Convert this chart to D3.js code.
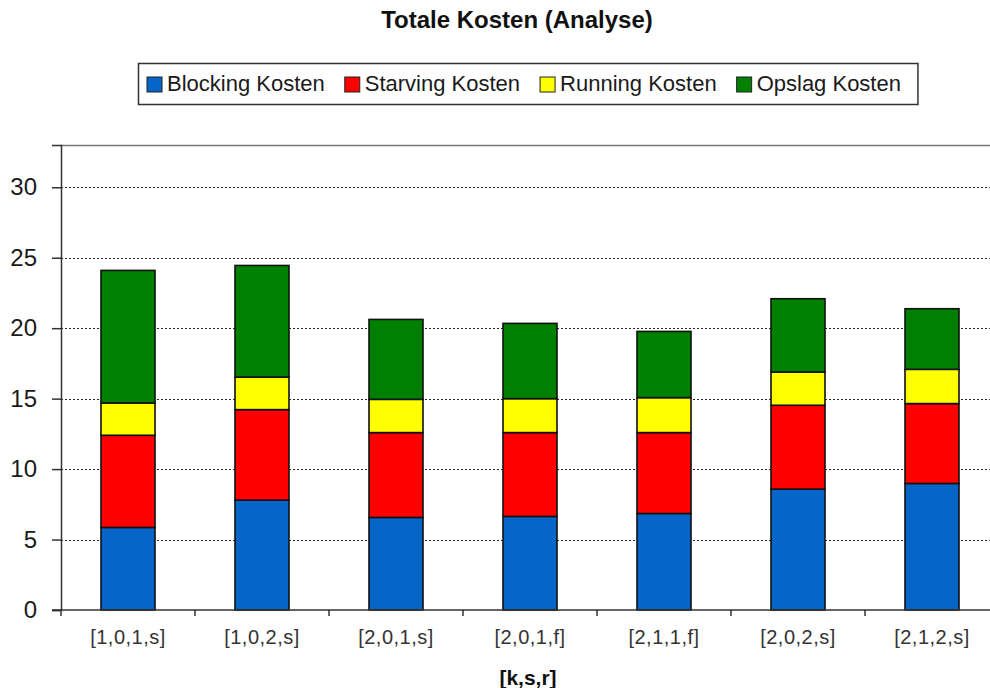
<!DOCTYPE html>
<html>
<head>
<meta charset="utf-8">
<script src="https://cdn.jsdelivr.net/npm/d3@7"></script>
<style>
  html, body { margin: 0; padding: 0; background: #fff; }
  svg { display: block; font-family: Arial, "Liberation Sans", sans-serif; }
</style>
</head>
<body>
<svg id="chart" width="990" height="688"></svg>
<script>
// Cost configurations [k,s,r]
const categories = ["[1,0,1,s]", "[1,0,2,s]", "[2,0,1,s]", "[2,0,1,f]", "[2,1,1,f]", "[2,0,2,s]", "[2,1,2,s]"];

// Cost components per configuration
const blocking = [5.86, 7.80, 6.57, 6.64, 6.85, 8.58, 8.98];
const starving = [6.54, 6.42, 6.02, 5.95, 5.74, 5.95, 5.67];
const running  = [2.29, 2.31, 2.36, 2.41, 2.48, 2.36, 2.43];
const opslag   = [9.41, 7.92, 5.67, 5.34, 4.70, 5.20, 4.30];

const seriesNames = ["Blocking Kosten", "Starving Kosten", "Running Kosten", "Opslag Kosten"];
const seriesColors = ["#0565c9", "#ff0000", "#ffff00", "#008000"];
const yTicks = [0, 5, 10, 15, 20, 25, 30];

const svg = d3.select("#chart");
const margin = { left: 61, right: 999, top: 145, bottom: 610 };

const rows = categories.map((c, i) => ({
  cat: c,
  "Blocking Kosten": blocking[i],
  "Starving Kosten": starving[i],
  "Running Kosten": running[i],
  "Opslag Kosten": opslag[i]
}));
const stacked = d3.stack().keys(seriesNames)(rows);

const x = d3.scaleBand()
  .domain(categories)
  .range([margin.left, margin.right])
  .paddingInner(0.597)
  .paddingOuter(0.2985);

const y = d3.scaleLinear().domain([0, 33]).range([margin.bottom, margin.top]);

// Title
svg.append("text")
  .attr("x", 517).attr("y", 28)
  .attr("text-anchor", "middle")
  .attr("font-size", 24).attr("font-weight", "bold")
  .attr("fill", "#111")
  .text("Totale Kosten (Analyse)");

// Plot frame: top border line
svg.append("line")
  .attr("x1", margin.left).attr("x2", 990)
  .attr("y1", margin.top + 0.5).attr("y2", margin.top + 0.5)
  .attr("stroke", "#777").attr("stroke-width", 1.5);

// Dotted gridlines
svg.append("g").selectAll("line")
  .data(yTicks.filter(t => t > 0))
  .join("line")
  .attr("x1", margin.left).attr("x2", 990)
  .attr("y1", d => Math.round(y(d)) + 0.5).attr("y2", d => Math.round(y(d)) + 0.5)
  .attr("stroke", "#222").attr("stroke-width", 1.2)
  .attr("stroke-dasharray", "2,2");

// Stacked bars
svg.append("g").selectAll("g")
  .data(stacked)
  .join("g")
  .attr("fill", (d, i) => seriesColors[i])
  .selectAll("rect")
  .data(d => d)
  .join("rect")
  .attr("x", d => x(d.data.cat))
  .attr("width", x.bandwidth())
  .attr("y", d => y(d[1]))
  .attr("height", d => y(d[0]) - y(d[1]))
  .attr("stroke", "#111").attr("stroke-width", 1.6);

// Y axis
const yAxis = d3.axisLeft(y).tickValues(yTicks).tickSize(9).tickPadding(15);
const gy = svg.append("g").attr("transform", `translate(${margin.left},0)`).call(yAxis);
gy.select(".domain").attr("stroke", "#333").attr("stroke-width", 1.5);
gy.selectAll(".tick line").attr("stroke", "#333").attr("stroke-width", 1.5);
gy.selectAll(".tick text").attr("font-size", 24).attr("fill", "#1a1a1a")
  .attr("font-family", "Arial, 'Liberation Sans', sans-serif");

// X axis baseline and category boundary ticks
svg.append("line")
  .attr("x1", margin.left - 9).attr("x2", 990)
  .attr("y1", margin.bottom).attr("y2", margin.bottom)
  .attr("stroke", "#333").attr("stroke-width", 1.5);
svg.append("g").selectAll("line")
  .data(d3.range(categories.length + 1))
  .join("line")
  .attr("x1", i => margin.left + i * x.step()).attr("x2", i => margin.left + i * x.step())
  .attr("y1", margin.bottom).attr("y2", margin.bottom + 6)
  .attr("stroke", "#333").attr("stroke-width", 1.5);

// Category labels
const xAxis = d3.axisBottom(x).tickSize(0).tickPadding(20);
const gx = svg.append("g").attr("transform", `translate(0,${margin.bottom})`).call(xAxis);
gx.select(".domain").remove();
gx.selectAll(".tick text").attr("font-size", 20).attr("fill", "#333")
  .attr("letter-spacing", "0.5px")
  .attr("font-family", "Arial, 'Liberation Sans', sans-serif");

// X axis title
svg.append("text")
  .attr("x", 528).attr("y", 685)
  .attr("text-anchor", "middle")
  .attr("font-size", 21).attr("font-weight", "bold").attr("fill", "#111")
  .text("[k,s,r]");

// Legend
const legend = svg.append("g");
const box = legend.append("rect")
  .attr("fill", "#fff").attr("stroke", "#333").attr("stroke-width", 1.5);
let cx = 147;
seriesNames.forEach((name, i) => {
  legend.append("rect")
    .attr("x", cx).attr("y", 77).attr("width", 15).attr("height", 15)
    .attr("fill", seriesColors[i]).attr("stroke", "#222").attr("stroke-width", 1);
  const t = legend.append("text")
    .attr("x", cx + 20).attr("y", 91)
    .attr("font-size", 22).attr("fill", "#1a1a1a")
    .text(name);
  cx += 20 + t.node().getComputedTextLength() + 20;
});
box.attr("x", 138.5).attr("y", 63.5).attr("width", cx - 20 + 17 - 138.5).attr("height", 41);
</script>
</body>
</html>
